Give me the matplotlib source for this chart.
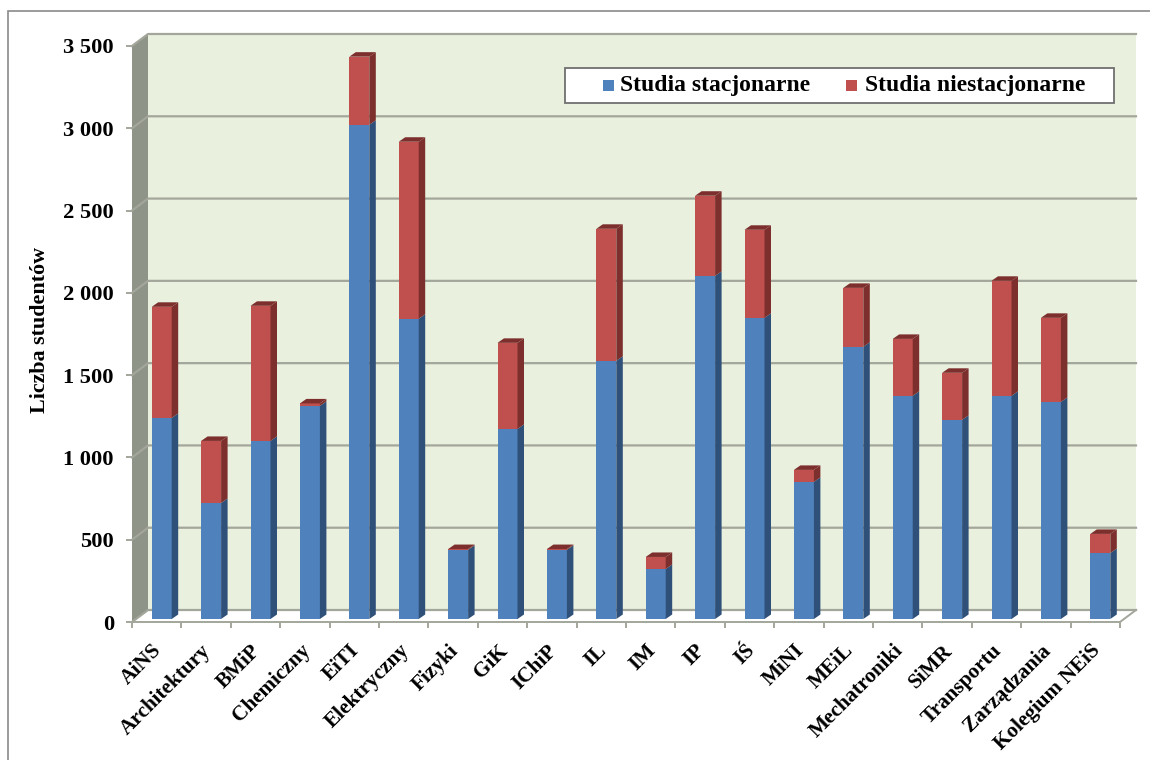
"""Stacked pseudo-3D column chart of student numbers per faculty."""
import matplotlib
matplotlib.use("Agg")
import matplotlib.pyplot as plt
from matplotlib.patches import Polygon, Rectangle

faculties = ["AiNS", "Architektury", "BMiP", "Chemiczny", "EiTI", "Elektryczny", "Fizyki", "GiK",
             "IChiP", "IL", "IM", "IP", "IŚ", "MiNI", "MEiL", "Mechatroniki", "SiMR", "Transportu",
             "Zarządzania", "Kolegium NEiS"]
full_time = [1222, 705, 1082, 1295, 3003, 1824, 420, 1155, 420, 1569, 304, 2085, 1830, 833, 1654,
             1356, 1210, 1356, 1319, 401]
part_time = [675, 377, 821, 15, 414, 1076, 5, 523, 5, 802, 73, 487, 535, 73, 358, 346, 286, 699, 511, 116]
y_ticks = [0, 500, 1000, 1500, 2000, 2500, 3000, 3500]
y_tick_labels = ["0", "500", "1 000", "1 500", "2 000", "2 500", "3 000", "3 500"]
legend_labels = ["Studia stacjonarne", "Studia niestacjonarne"]

W, H = 1150, 760
X0, X1, Y0, Y1 = 132, 1120, 622, 46  # front plane of the plot box, in pixels
PX = len(faculties) / (X1 - X0)  # data units per pixel
PY = 3500 / (Y0 - Y1)
DEPTH_X, DEPTH_Y = 16 * PX, 12 * PY  # box depth
BAR_X, BAR_Y = 6.5 * PX, 4.5 * PY  # column depth
BAR_W = 20 * PX
BAR_SHIFT, BAR_BASE = 5 * PX, 3 * PY  # columns stand a little inside the box
BLUE, BLUE_DK, RED, RED_DK = "#4f81bd", "#2f5079", "#c0504d", "#7c2f2d"
WALL, SIDE, GRID = "#e9f0de", "#8f9488", "#a3a69a"
SERIF = "Liberation Serif"

plt.rcParams.update({"font.family": SERIF, "font.weight": "bold"})

fig = plt.figure(figsize=(W / 100, H / 100), dpi=100)
frame = Rectangle((8 / W, -0.05), 2, 1.05 - 11 / H, transform=fig.transFigure,
                  fc="white", ec="#8a8a8a", lw=1.2, zorder=-1)
fig.add_artist(frame)
ax = fig.add_axes([X0 / W, (H - Y0) / H, (X1 - X0) / W, (Y0 - Y1) / H], zorder=2)
ax.set_xlim(0, len(faculties))
ax.set_ylim(0, 3500)
ax.patch.set_visible(False)
for s in ("top", "right", "left"):
    ax.spines[s].set_visible(False)
ax.spines["bottom"].set_color(GRID)
ax.spines["bottom"].set_linewidth(1.4)


def poly(pts, color, z):
    ax.add_patch(Polygon(pts, closed=True, fc=color, ec="none", clip_on=False, zorder=z))


n = len(faculties)
# back wall, left side wall and white floor
poly([(DEPTH_X, DEPTH_Y), (n + DEPTH_X, DEPTH_Y), (n + DEPTH_X, 3500 + DEPTH_Y), (DEPTH_X, 3500 + DEPTH_Y)], WALL, 1)
poly([(0, 0), (DEPTH_X, DEPTH_Y), (DEPTH_X, 3500 + DEPTH_Y), (0, 3500)], SIDE, 1.1)
ax.plot([n, n + DEPTH_X], [0, DEPTH_Y], color=GRID, lw=1.4, clip_on=False, zorder=1.2)

# gridlines bend along the side wall
for t in y_ticks:
    ax.plot([0, DEPTH_X, n + DEPTH_X], [t, t + DEPTH_Y, t + DEPTH_Y], color=GRID, lw=1.6,
            clip_on=False, zorder=1.2)

# columns: front face plus shaded side and top
for i, (ft, pt) in enumerate(zip(full_time, part_time)):
    left = i + 0.5 - BAR_W / 2 + BAR_SHIFT
    right = left + BAR_W
    base = BAR_BASE
    total = ft + pt
    ax.bar(left, ft, BAR_W, bottom=base, align="edge", color=BLUE, zorder=3, clip_on=False)
    ax.bar(left, pt, BAR_W, bottom=base + ft, align="edge", color=RED, zorder=3, clip_on=False)
    poly([(right, base), (right + BAR_X, base + BAR_Y), (right + BAR_X, base + ft + BAR_Y), (right, base + ft)], BLUE_DK, 3)
    poly([(right, base + ft), (right + BAR_X, base + ft + BAR_Y), (right + BAR_X, base + total + BAR_Y), (right, base + total)], RED_DK, 3)
    poly([(left, base + total), (right, base + total), (right + BAR_X, base + total + BAR_Y), (left + BAR_X, base + total + BAR_Y)], RED_DK, 3)

ax.set_xticks(range(n + 1))
ax.set_xticklabels([])
ax.tick_params(axis="x", length=4.5, width=1.4, color=GRID)
ax.set_yticks(y_ticks, y_tick_labels, fontsize=16.2)
ax.tick_params(axis="y", length=4.5, width=1.4, color=GRID, pad=8.5)
ax.set_ylabel("Liczba studentów", fontsize=15.8, fontweight="bold")
ax.yaxis.set_label_coords(-0.083, 0.507)

for i, name in enumerate(faculties):
    ax.annotate(name, (i + 0.5, 0), xytext=(1.5, -18.5), textcoords="offset points", rotation=45,
                rotation_mode="anchor", ha="right", va="center", fontsize=15.3)

# legend box
leg_x0, leg_x1 = 565, 1114
leg_y0, leg_y1 = 68, 103
fig.add_artist(Rectangle((leg_x0 / W, (H - leg_y1) / H), (leg_x1 - leg_x0) / W, (leg_y1 - leg_y0) / H,
                         transform=fig.transFigure, fc="white", ec="#707070", lw=1.3, zorder=5))
for sx, color, label, tx in zip((603, 846), (BLUE, RED), legend_labels, (620, 865)):
    fig.add_artist(Rectangle((sx / W, (H - 91) / H), 11 / W, 11 / H, transform=fig.transFigure,
                             fc=color, ec="none", zorder=6))
    fig.text(tx / W, (H - 86) / H, label, fontsize=17, va="center", zorder=6)

fig.savefig("out.png", dpi=100)
